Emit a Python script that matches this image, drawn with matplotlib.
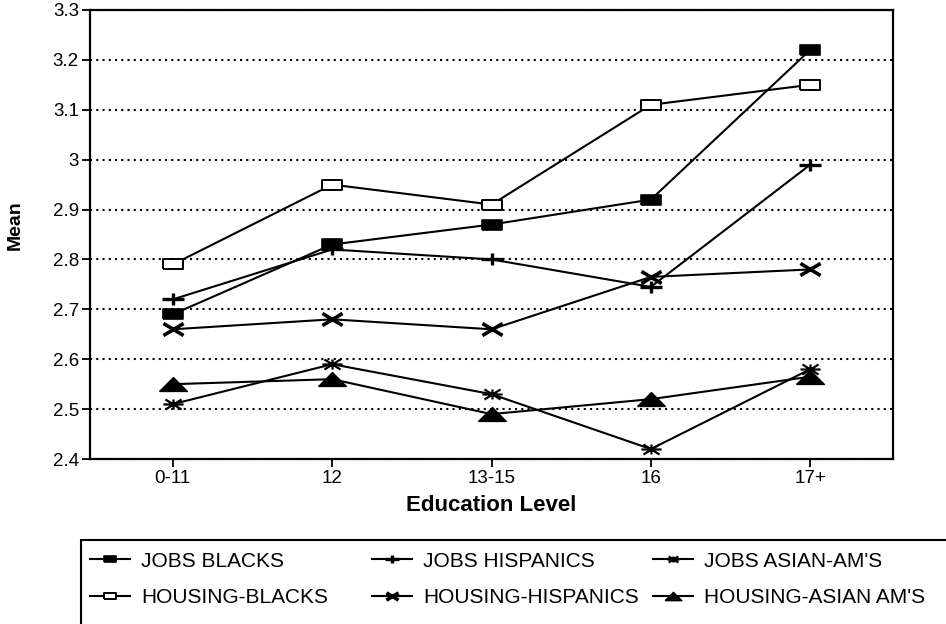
import matplotlib.pyplot as plt
from matplotlib.patches import Rectangle
from matplotlib.path import Path

plt.rcParams['font.family'] = ['Liberation Sans', 'DejaVu Sans']

# education levels on the x axis
levels = ['0-11', '12', '13-15', '16', '17+']

# mean values
jobs_blacks = [2.69, 2.83, 2.87, 2.92, 3.22]
housing_blacks = [2.79, 2.95, 2.91, 3.11, 3.15]
jobs_hispanics = [2.72, 2.82, 2.80, 2.745, 2.99]
housing_hispanics = [2.66, 2.68, 2.66, 2.765, 2.78]
jobs_asian = [2.51, 2.59, 2.53, 2.42, 2.58]
housing_asian = [2.55, 2.56, 2.49, 2.52, 2.565]

y_ticks = [2.4, 2.5, 2.6, 2.7, 2.8, 2.9, 3.0, 3.1, 3.2, 3.3]
y_tick_labels = ['2.4', '2.5', '2.6', '2.7', '2.8', '2.9', '3', '3.1', '3.2', '3.3']

M, L = Path.MOVETO, Path.LINETO
# flattened markers, like the old plotting package
rect_m = Path([(-1, -0.5), (1, -0.5), (1, 0.5), (-1, 0.5), (-1, -0.5)], [M, L, L, L, L])
tri_m = Path([(-1, -0.5), (1, -0.5), (0, 0.5), (-1, -0.5)], [M, L, L, L])
x_m = Path([(-1, -0.6), (1, 0.6), (-1, 0.6), (1, -0.6)], [M, L, M, L])
plus_m = Path([(-1, 0), (1, 0), (0, -0.55), (0, 0.55)], [M, L, M, L])
ast_m = Path([(-1, 0), (1, 0), (-0.8, -0.5), (0.8, 0.5), (-0.8, 0.5), (0.8, -0.5), (0, -0.5), (0, 0.5)],
             [M, L, M, L, M, L, M, L])

fig = plt.figure(figsize=(9.46, 6.24), dpi=100)
ax = fig.add_axes([0.0951, 0.2644, 0.849, 0.7196])

x = list(range(len(levels)))
common = dict(color='black', linewidth=1.5, markeredgecolor='black')

series = [
    (jobs_blacks, 'JOBS BLACKS', dict(marker=rect_m, markersize=15, markerfacecolor='black', markeredgewidth=1.2)),
    (housing_blacks, 'HOUSING-BLACKS', dict(marker=rect_m, markersize=15, markerfacecolor='white', markeredgewidth=1.4)),
    (jobs_hispanics, 'JOBS HISPANICS', dict(marker=plus_m, markersize=16, markerfacecolor='black', markeredgewidth=2.4)),
    (housing_hispanics, 'HOUSING-HISPANICS', dict(marker=x_m, markersize=14.5, markerfacecolor='black', markeredgewidth=2.6)),
    (jobs_asian, "JOBS ASIAN-AM'S", dict(marker=ast_m, markersize=14.5, markerfacecolor='black', markeredgewidth=1.6)),
    (housing_asian, "HOUSING-ASIAN AM'S", dict(marker=tri_m, markersize=20, markerfacecolor='black', markeredgewidth=1.0)),
]

handles = []
for vals, label, style in series:
    h, = ax.plot(x, vals, label=label, **common, **style)
    handles.append(h)

ax.set_xlim(-0.52, 4.52)
ax.set_ylim(2.4, 3.3)
ax.set_xticks(x)
ax.set_xticklabels(levels)
ax.set_yticks(y_ticks)
ax.set_yticklabels(y_tick_labels)
ax.tick_params(axis='both', direction='out', length=6, width=1.3, labelsize=13.5, colors='black', pad=2)
ax.yaxis.grid(True, linestyle=(0, (1, 2)), color='black', linewidth=1.5)
ax.set_axisbelow(True)
for sp in ax.spines.values():
    sp.set_linewidth(1.6)

ax.set_xlabel('Education Level', fontsize=16, fontweight='bold', labelpad=6)
ax.set_ylabel('Mean', fontsize=14, fontweight='bold')
ax.yaxis.set_label_coords(-0.082, 0.52)

# legend box runs off the lower right edge of the figure
fig.patches.append(Rectangle((81 / 946, -0.05), 1.0, 0.05 + 84 / 624, transform=fig.transFigure,
                             fill=False, edgecolor='black', linewidth=1.5))

# three legend columns placed where the original had them
col_x = [90 / 946, 372 / 946, 653 / 946]
for i, cx in enumerate(col_x):
    leg = fig.legend(handles=handles[2 * i:2 * i + 2], loc='center left', bbox_to_anchor=(cx, 1 - 579.5 / 624),
                     frameon=False, fontsize=15, handlelength=1.9, handletextpad=0.55,
                     labelspacing=0.85, markerscale=0.6, borderpad=0, borderaxespad=0)

plt.savefig('out.png', dpi=100)
